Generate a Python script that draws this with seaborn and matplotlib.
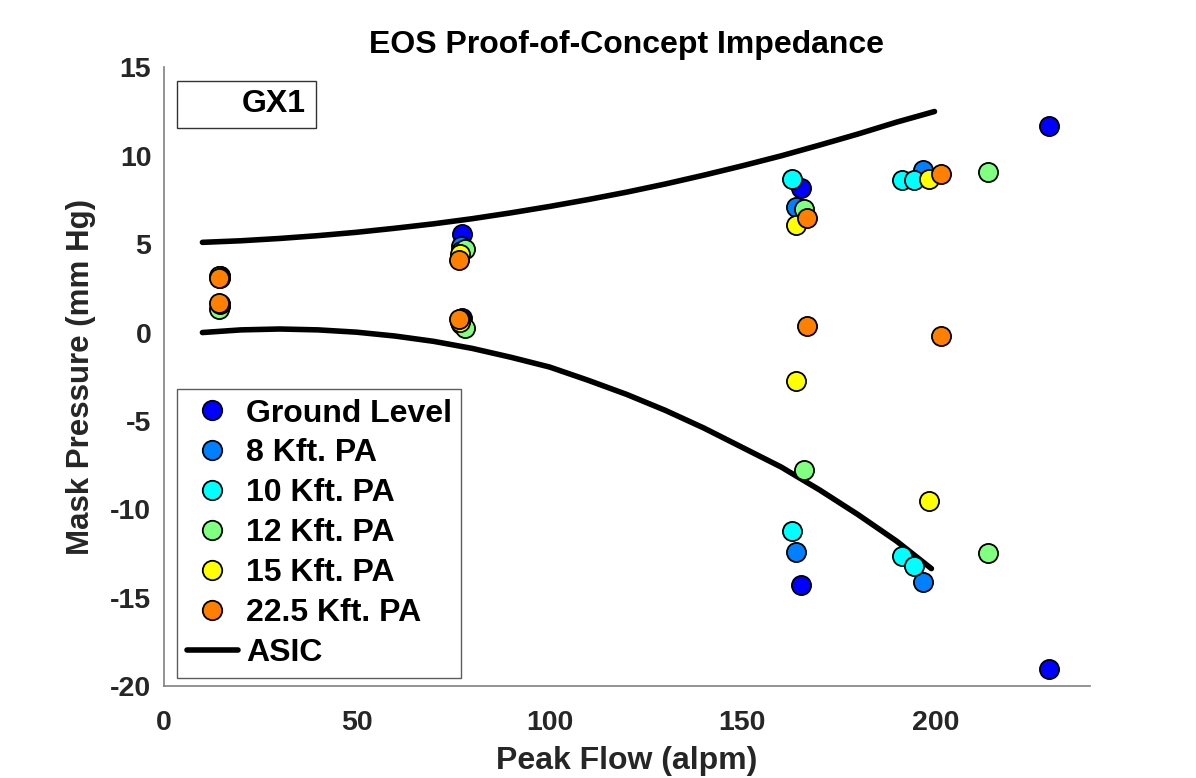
import numpy as np
import pandas as pd
import matplotlib
matplotlib.use("Agg")
import matplotlib.pyplot as plt
from matplotlib.lines import Line2D
from matplotlib.patches import Rectangle
import seaborn as sns

# ---- data ----
groups = ["Ground Level", "8 Kft. PA", "10 Kft. PA", "12 Kft. PA", "15 Kft. PA", "22.5 Kft. PA"]
colors = ["#0000FF", "#0080FF", "#00FFFF", "#80FF80", "#FFFF00", "#FF8000"]

ground_flow = [14.5, 14.5, 77.3, 77.3, 165.1, 165.1, 229.4, 229.4]
ground_pres = [3.2, 1.6, 5.56, 0.8, 8.15, -14.3, 11.7, -19.05]

kft8_flow = [14.5, 14.5, 77.0, 77.0, 164.0, 164.0, 196.8, 196.8]
kft8_pres = [3.15, 1.55, 4.9, 0.7, 7.1, -12.4, 9.2, -14.1]

kft10_flow = [14.5, 14.5, 77.0, 77.0, 162.8, 162.8, 191.4, 191.4, 194.6, 194.6]
kft10_pres = [3.2, 1.5, 4.6, 0.5, 8.7, -11.25, 8.6, -12.65, 8.6, -13.2]

kft12_flow = [14.3, 14.3, 78.1, 78.1, 166.0, 166.0, 213.6, 213.6]
kft12_pres = [3.2, 1.35, 4.7, 0.25, 7.0, -7.75, 9.1, -12.45]

kft15_flow = [14.5, 14.5, 76.8, 76.8, 163.8, 163.8, 198.3, 198.3]
kft15_pres = [3.1, 1.6, 4.45, 0.6, 6.1, -2.75, 8.7, -9.55]

kft225_flow = [14.3, 14.3, 76.5, 76.5, 166.7, 166.7, 201.4, 201.4]
kft225_pres = [3.1, 1.65, 4.1, 0.75, 6.45, 0.35, 8.95, -0.2]

asic_upper_flow = [10, 20, 30, 40, 50, 60, 70, 80, 90, 100, 110, 120, 130, 140, 150,
                   160, 170, 180, 190, 199.8]
asic_upper_pres = [5.1, 5.19, 5.32, 5.48, 5.67, 5.9, 6.15, 6.44, 6.77, 7.13, 7.52, 7.94,
                   8.4, 8.9, 9.43, 9.99, 10.6, 11.23, 11.9, 12.5]

asic_lower_flow = [10, 20, 30, 40, 50, 60, 70, 80, 90, 100, 110, 120, 130, 140, 150,
                   160, 170, 180, 190, 199]
asic_lower_pres = [0.0, 0.15, 0.2, 0.15, 0.02, -0.2, -0.5, -0.9, -1.4, -1.95, -2.7, -3.5,
                   -4.4, -5.4, -6.5, -7.6, -8.9, -10.3, -11.8, -13.35]

x_ticks = [0, 50, 100, 150, 200]
y_ticks = [-20, -15, -10, -5, 0, 5, 10, 15]

# ---- build frame ----
flows = [ground_flow, kft8_flow, kft10_flow, kft12_flow, kft15_flow, kft225_flow]
press = [ground_pres, kft8_pres, kft10_pres, kft12_pres, kft15_pres, kft225_pres]
rows = []
for g, fl, pr in zip(groups, flows, press):
    for f, p in zip(fl, pr):
        rows.append({"Peak Flow": f, "Mask Pressure": p, "Group": g})
df = pd.DataFrame(rows)

sns.set_theme(style="white")
plt.rcParams["font.family"] = ["Liberation Sans", "DejaVu Sans"]
plt.rcParams["font.weight"] = "bold"

fig = plt.figure(figsize=(11.96, 7.78), dpi=100)
ax = fig.add_axes([0.137, 0.118, 0.774, 0.7955])

# ASIC lines
sns.lineplot(x=asic_upper_flow, y=asic_upper_pres, ax=ax, color="black", lw=4, zorder=2, sort=False)
sns.lineplot(x=asic_lower_flow, y=asic_lower_pres, ax=ax, color="black", lw=4, zorder=2, sort=False)

for i, g in enumerate(groups):
    sub = df[df["Group"] == g]
    sns.scatterplot(data=sub, x="Peak Flow", y="Mask Pressure", ax=ax, color=colors[i],
                    s=190, edgecolor="black", linewidth=1.3, zorder=3 + i, legend=False)

ax.set_xlim(0, 240)
ax.set_ylim(-20, 15)
ax.set_xticks(x_ticks)
ax.set_yticks(y_ticks)
ax.set_xticklabels([str(t) for t in x_ticks])
ax.set_yticklabels([str(t) for t in y_ticks])

gray = "#808080"
txt = "#262626"
for side in ["top", "right"]:
    ax.spines[side].set_visible(False)
for side in ["left", "bottom"]:
    ax.spines[side].set_color(gray)
    ax.spines[side].set_linewidth(1.2)
ax.tick_params(axis="both", direction="in", length=9, width=1.2, color=gray,
               labelsize=20.5, labelcolor=txt)
ax.tick_params(axis="x", pad=17)
ax.tick_params(axis="y", pad=9)
for lab in ax.get_xticklabels() + ax.get_yticklabels():
    lab.set_fontweight("bold")

ax.set_xlabel("Peak Flow (alpm)", fontsize=23, fontweight="bold", color=txt, labelpad=7)
ax.set_ylabel("Mask Pressure (mm Hg)", fontsize=22.5, fontweight="bold", color=txt, labelpad=10)
ax.set_title("EOS Proof-of-Concept Impedance", fontsize=23, fontweight="bold", color="black", pad=10)

# GX1 box
ax.add_patch(Rectangle((0.0144, 0.902), 0.150, 0.076, transform=ax.transAxes,
                       facecolor="white", edgecolor="#333333", lw=1.0, zorder=10))
ax.text(0.1535, 0.94, "GX1", transform=ax.transAxes, ha="right", va="center",
        fontsize=23, fontweight="bold", color="black", zorder=11)

# legend
handles = [Line2D([0], [0], marker="o", color="none", markerfacecolor=c, markeredgecolor="black",
                  markersize=14, markeredgewidth=1.3, label=g) for g, c in zip(groups, colors)]
handles.append(Line2D([0], [0], color="black", lw=4, label="ASIC"))
leg = ax.legend(handles=handles, loc="lower left", bbox_to_anchor=(0.0144, 0.014), borderaxespad=0,
                frameon=True, fancybox=False, edgecolor="#333333",
                prop={"weight": "bold", "size": 23}, handlelength=1.6, handletextpad=0.25,
                labelspacing=0.31, borderpad=0.3)
leg.get_frame().set_linewidth(1.0)
leg.set_zorder(12)
for t in leg.get_texts():
    t.set_color("black")

fig.savefig("out.png", dpi=100, facecolor="white")
